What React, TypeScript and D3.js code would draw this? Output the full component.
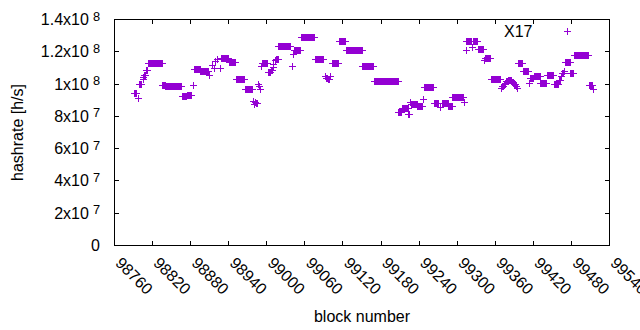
import React from 'react';
import { scaleLinear } from 'd3';

// hashrate per block, as runs of consecutive blocks that share one value
// [first block, last block, hashrate in units of 10^8 h/s]
const runs: [number, number, number][] = [
  [98792, 98795, 0.94], [98798, 98798, 0.912], [98800, 98802, 0.995],
  [98805, 98805, 1.03], [98806, 98806, 1.04], [98808, 98809, 1.056],
  [98811, 98812, 1.087], [98814, 98835, 1.129], [98836, 98840, 0.992],
  [98841, 98866, 0.986], [98867, 98874, 0.925], [98875, 98882, 0.932],
  [98884, 98884, 0.992], [98886, 98895, 1.092], [98896, 98908, 1.077],
  [98910, 98910, 1.056], [98915, 98915, 1.118], [98918, 98918, 1.098],
  [98919, 98919, 1.139], [98923, 98923, 1.155], [98927, 98927, 1.098],
  [98928, 98940, 1.16], [98941, 98951, 1.132], [98952, 98965, 1.03],
  [98966, 98978, 0.968], [98979, 98979, 0.895], [98981, 98981, 0.875],
  [98982, 98982, 0.887], [98984, 98985, 0.88], [98987, 98987, 0.995],
  [98988, 98988, 0.982], [98990, 98990, 0.965], [98992, 98992, 1.108],
  [98993, 99001, 1.129], [99002, 99006, 1.072], [99007, 99009, 1.085],
  [99010, 99010, 1.1], [99011, 99011, 1.122], [99014, 99014, 1.143],
  [99015, 99018, 1.155], [99019, 99038, 1.234], [99040, 99040, 1.11],
  [99042, 99042, 1.185], [99043, 99053, 1.211], [99054, 99075, 1.287],
  [99076, 99090, 1.153], [99092, 99092, 1.05], [99094, 99095, 1.036],
  [99097, 99098, 1.028], [99100, 99100, 1.045], [99103, 99113, 1.126],
  [99114, 99124, 1.263], [99125, 99150, 1.209], [99151, 99168, 1.11],
  [99169, 99207, 1.016], [99208, 99213, 0.823], [99214, 99223, 0.846],
  [99224, 99225, 0.81], [99227, 99227, 0.885], [99228, 99237, 0.875],
  [99238, 99245, 0.858], [99247, 99247, 0.906], [99249, 99263, 0.98],
  [99264, 99271, 0.877], [99274, 99274, 0.854], [99277, 99286, 0.88],
  [99287, 99292, 0.864], [99293, 99310, 0.914], [99311, 99311, 0.887],
  [99314, 99314, 1.205], [99315, 99323, 1.263], [99324, 99324, 1.225],
  [99325, 99332, 1.263], [99333, 99342, 1.215], [99343, 99343, 1.149],
  [99344, 99353, 1.16], [99354, 99368, 1.03], [99370, 99370, 0.97],
  [99371, 99373, 0.985], [99374, 99376, 1.0], [99377, 99380, 1.015],
  [99381, 99386, 1.025], [99387, 99389, 1.012], [99390, 99392, 1.0],
  [99393, 99394, 0.988], [99395, 99395, 0.974], [99396, 99403, 1.129],
  [99404, 99412, 1.077], [99414, 99414, 1.005], [99415, 99421, 1.032],
  [99422, 99431, 1.046], [99432, 99441, 1.005], [99442, 99452, 1.052],
  [99453, 99460, 0.999], [99461, 99462, 1.025], [99464, 99465, 1.045],
  [99466, 99468, 1.065], [99469, 99469, 1.08], [99470, 99478, 1.135],
  [99479, 99484, 1.067], [99485, 99507, 1.18], [99508, 99513, 0.992],
  [99514, 99514, 0.968],
];

const xTicks = [98760, 98820, 98880, 98940, 99000, 99060, 99120, 99180, 99240, 99300, 99360, 99420, 99480, 99540];
const yTicks = [0, 0.2, 0.4, 0.6, 0.8, 1.0, 1.2, 1.4];
const yTickMantissa = ['0', '2x10', '4x10', '6x10', '8x10', '1x10', '1.2x10', '1.4x10'];
const yTickExponent = ['', '7', '7', '7', '7', '8', '8', '8'];
const seriesName = 'X17';

const W = 640, H = 330;
const left = 114.5, right = 609.5, top = 19.5, bottom = 245.5;
const color = '#9400d3';
const font = '"Liberation Sans", Arial, sans-serif';
const tick = 4.5;
const ps = 3.5;

const plus = (x: number, y: number) => `M${x - ps},${y}H${x + ps}M${x},${y - ps}V${y + ps}`;

export default function App() {
  const x = scaleLinear().domain([98760, 99540]).range([left, right]);
  const y = scaleLinear().domain([0, 1.4]).range([bottom, top]);

  let d = '';
  runs.forEach(([from, to, v]) => {
    for (let b = from; b <= to; b++) d += plus(x(b), y(v));
  });

  return (
    <svg width={W} height={H} style={{ position: 'absolute', left: 0, top: 0, background: '#fff' }}
      fontFamily={font} fontSize={16} fill="#000">
      <g stroke="#000" strokeWidth={1} shapeRendering="crispEdges">
        {yTicks.map(t => (
          <g key={'y' + t}>
            <line x1={left} x2={left + tick} y1={y(t)} y2={y(t)} />
            <line x1={right} x2={right - tick} y1={y(t)} y2={y(t)} />
          </g>
        ))}
        {xTicks.map(t => (
          <g key={'x' + t}>
            <line x1={x(t)} x2={x(t)} y1={bottom} y2={bottom - tick} />
            <line x1={x(t)} x2={x(t)} y1={top} y2={top + tick} />
          </g>
        ))}
        <rect x={left} y={top} width={right - left} height={bottom - top} fill="none" />
      </g>

      {yTicks.map((t, i) => (
        <text key={'yl' + t} x={100} y={y(t) + 5.5} textAnchor="end">
          {yTickMantissa[i]}
          {yTickExponent[i] && <tspan dx={4} dy={-4.5} fontSize={12.8}>{yTickExponent[i]}</tspan>}
        </text>
      ))}
      {xTicks.map(t => (
        <text key={'xl' + t} transform={`translate(${x(t)},264) rotate(45)`}>{t}</text>
      ))}

      <text transform={`translate(22.5,${(top + bottom) / 2}) rotate(-90)`} textAnchor="middle">hashrate [h/s]</text>
      <text x={(left + right) / 2} y={322} textAnchor="middle">block number</text>

      <path d={d} stroke={color} strokeWidth={1} fill="none" shapeRendering="crispEdges" />

      <text x={532.5} y={37.3} textAnchor="end">{seriesName}</text>
      <path d={plus(567.5, 31.5)} stroke={color} strokeWidth={1} shapeRendering="crispEdges" />
    </svg>
  );
}
